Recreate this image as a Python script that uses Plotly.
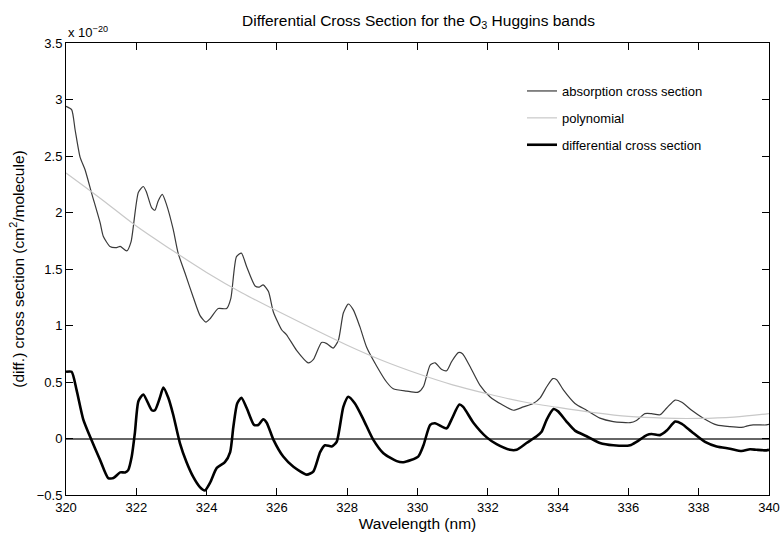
import plotly.graph_objects as go

# Values in units of 1e-20 cm^2/molecule
abs_wl = [320.00, 320.16, 320.26, 320.40, 320.54, 320.73, 320.97, 321.06, 321.25, 321.44,
          321.54, 321.73, 321.85, 322.06, 322.20, 322.29, 322.44, 322.53, 322.62, 322.74,
          322.86, 323.05, 323.19, 323.39, 323.62, 323.81, 323.98, 324.10, 324.33, 324.57,
          324.69, 324.85, 324.99, 325.14, 325.38, 325.50, 325.61, 325.76, 325.90, 326.14,
          326.27, 326.56, 326.89, 327.04, 327.27, 327.42, 327.60, 327.75, 327.89, 328.03,
          328.17, 328.36, 328.55, 328.84, 329.12, 329.31, 329.69, 330.02, 330.17, 330.36,
          330.50, 330.69, 330.83, 330.97, 331.16, 331.28, 331.49, 331.78, 332.06, 332.40,
          332.73, 333.01, 333.29, 333.49, 333.68, 333.85, 333.96, 334.15, 334.48, 334.81,
          335.19, 335.57, 336.05, 336.23, 336.47, 336.66, 336.90, 337.09, 337.33, 337.52,
          337.80, 338.13, 338.51, 338.89, 339.27, 339.36, 339.55, 339.93, 340.00]
abs_val = [2.94, 2.91, 2.73, 2.49, 2.38, 2.17, 1.91, 1.79, 1.70, 1.69,
           1.70, 1.66, 1.74, 2.18, 2.23, 2.18, 2.04, 2.02, 2.10, 2.16,
           2.07, 1.85, 1.64, 1.46, 1.25, 1.09, 1.03, 1.06, 1.15, 1.15,
           1.24, 1.61, 1.64, 1.52, 1.35, 1.34, 1.36, 1.30, 1.12, 0.96,
           0.92, 0.78, 0.67, 0.70, 0.85, 0.84, 0.80, 0.87, 1.11, 1.19,
           1.14, 0.99, 0.81, 0.64, 0.50, 0.44, 0.42, 0.41, 0.46, 0.65,
           0.67, 0.61, 0.60, 0.68, 0.76, 0.75, 0.64, 0.47, 0.37, 0.30,
           0.25, 0.28, 0.31, 0.36, 0.46, 0.53, 0.52, 0.43, 0.31, 0.25,
           0.18, 0.15, 0.14, 0.16, 0.22, 0.22, 0.21, 0.27, 0.34, 0.32,
           0.25, 0.18, 0.12, 0.105, 0.10, 0.11, 0.12, 0.12, 0.125]

poly_wl = [320, 321, 322, 323, 324, 325, 326, 327, 328, 329, 330,
           331, 332, 333, 334, 335, 336, 337, 338, 339, 340]
poly_val = [2.35, 2.12, 1.88, 1.67, 1.47, 1.29, 1.13, 0.975, 0.825, 0.69, 0.575,
            0.475, 0.395, 0.325, 0.275, 0.23, 0.195, 0.18, 0.178, 0.19, 0.22]

diff_wl = [320.00, 320.16, 320.30, 320.49, 320.68, 320.97, 321.20, 321.35, 321.54, 321.68,
           321.77, 321.87, 321.96, 322.06, 322.20, 322.44, 322.53, 322.67, 322.77, 322.91,
           323.05, 323.24, 323.43, 323.62, 323.81, 323.95, 324.10, 324.29, 324.52, 324.67,
           324.76, 324.87, 324.99, 325.14, 325.35, 325.47, 325.61, 325.71, 325.90, 326.18,
           326.47, 326.85, 327.04, 327.23, 327.37, 327.56, 327.70, 327.89, 328.03, 328.22,
           328.46, 328.74, 329.03, 329.41, 329.60, 330.02, 330.17, 330.36, 330.50, 330.83,
           330.97, 331.19, 331.30, 331.59, 331.97, 332.25, 332.63, 332.82, 333.10, 333.39,
           333.53, 333.68, 333.87, 334.00, 334.24, 334.48, 334.81, 335.19, 335.57, 336.05,
           336.23, 336.52, 336.66, 336.90, 337.09, 337.33, 337.52, 337.80, 338.18, 338.51,
           338.89, 339.22, 339.46, 339.65, 339.93, 340.00]
diff_val = [0.59, 0.59, 0.43, 0.17, 0.02, -0.19, -0.35, -0.35, -0.30, -0.30,
            -0.28, -0.16, 0.05, 0.33, 0.39, 0.25, 0.25, 0.36, 0.45, 0.36,
            0.21, -0.04, -0.21, -0.34, -0.43, -0.46, -0.39, -0.26, -0.21, -0.12,
            0.10, 0.31, 0.36, 0.27, 0.12, 0.12, 0.17, 0.14, -0.01, -0.16,
            -0.25, -0.32, -0.29, -0.12, -0.06, -0.07, -0.03, 0.28, 0.37, 0.31,
            0.17, -0.01, -0.13, -0.20, -0.21, -0.16, -0.06, 0.12, 0.135, 0.09,
            0.17, 0.30, 0.28, 0.14, 0.01, -0.05, -0.10, -0.10, -0.04, 0.02,
            0.06, 0.17, 0.26, 0.24, 0.15, 0.07, 0.02, -0.04, -0.06, -0.06,
            -0.03, 0.03, 0.04, 0.03, 0.07, 0.15, 0.13, 0.06, -0.03, -0.07,
            -0.09, -0.11, -0.095, -0.10, -0.105, -0.10]

x_ticks = [320, 322, 324, 326, 328, 330, 332, 334, 336, 338, 340]
y_ticks = [-0.5, 0, 0.5, 1, 1.5, 2, 2.5, 3, 3.5]
y_tick_labels = ["\u22120.5", "0", "0.5", "1", "1.5", "2", "2.5", "3", "3.5"]

FONT = "Liberation Sans, Arial, Helvetica, sans-serif"

fig = go.Figure()
fig.add_trace(go.Scatter(x=abs_wl, y=abs_val, mode="lines", name="absorption cross section",
                         line=dict(color="#3a3a3a", width=1.2, shape="spline", smoothing=0.6),
                         legendgroup="a"))
fig.add_trace(go.Scatter(x=poly_wl, y=poly_val, mode="lines", name="polynomial",
                         line=dict(color="#c8c8c8", width=1.2, shape="spline"),
                         legendgroup="b"))
fig.add_trace(go.Scatter(x=diff_wl, y=diff_val, mode="lines", name="differential cross section",
                         line=dict(color="#000000", width=2.6, shape="spline", smoothing=0.6),
                         legendgroup="c"))

fig.update_layout(
    width=781, height=535,
    margin=dict(l=66, r=12, t=43, b=40, autoexpand=False),
    paper_bgcolor="white", plot_bgcolor="white",
    font=dict(family=FONT, size=13, color="black"),
    title=dict(text="Differential Cross Section for the O<sub>3</sub> Huggins bands",
               x=418.5 / 781, xanchor="center", y=1 - 20.5 / 535, yanchor="middle",
               font=dict(family=FONT, size=15.5, color="black")),
    showlegend=True,
    legend=dict(x=(522 - 66) / 703, xanchor="left", y=1 - (76 - 43) / 452, yanchor="top",
                bgcolor="rgba(0,0,0,0)", borderwidth=0, tracegroupgap=7,
                traceorder="grouped", font=dict(family=FONT, size=13, color="black")),
    xaxis=dict(range=[320, 340], tickvals=x_ticks, ticks="inside", ticklen=7,
               tickcolor="black", showline=True, linecolor="black", linewidth=1,
               mirror="ticks", showgrid=False, zeroline=False,
               tickfont=dict(family=FONT, size=13),
               title=dict(text="Wavelength (nm)", standoff=3,
                          font=dict(family=FONT, size=15.5))),
    yaxis=dict(range=[-0.5, 3.5], tickvals=y_ticks, ticktext=y_tick_labels,
               ticks="inside", ticklen=7, tickcolor="black", showline=True,
               linecolor="black", linewidth=1, mirror="ticks", showgrid=False,
               zeroline=True, zerolinecolor="#666666", zerolinewidth=1.5,
               tickfont=dict(family=FONT, size=13),
               title=dict(text="(diff.) cross section (cm<sup>2</sup>/molecule)", standoff=8,
                          font=dict(family=FONT, size=15.5))),
)

fig.add_annotation(text="x 10<sup>\u221220</sup>", xref="paper", yref="paper",
                   x=0, xanchor="left", y=1, yanchor="bottom", yshift=1,
                   showarrow=False, font=dict(family=FONT, size=13, color="black"))

fig.write_html("out.html")
